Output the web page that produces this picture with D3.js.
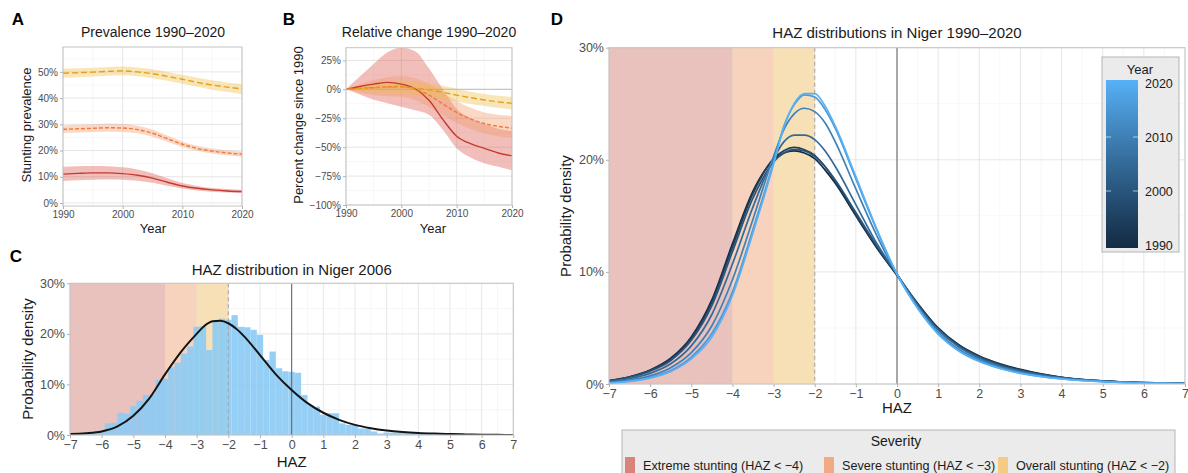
<!DOCTYPE html>
<html>
<head>
<meta charset="utf-8">
<script src="https://cdn.jsdelivr.net/npm/d3@7"></script>
<style>
  body { margin: 0; background: #fff; }
  svg { display: block; }
</style>
</head>
<body>
<svg id="fig" width="1188" height="473"></svg>
<script>
// ---------- data ----------
// Years sampled for panels A and B
const years = [1990, 1992.5, 1995, 1997.5, 2000, 2002.5, 2005, 2007.5, 2010, 2012.5, 2015, 2017.5, 2020];

// Panel A: stunting prevalence (%), central estimate and uncertainty band
const prevOverall   = [49.5, 49.7, 49.9, 50.2, 50.4, 50.0, 49.3, 48.3, 47.2, 46.0, 45.0, 44.2, 43.5];
const prevOverallLo = [47.8, 48.0, 48.2, 48.5, 48.7, 48.3, 47.6, 46.6, 45.5, 44.3, 43.2, 42.3, 41.5];
const prevOverallHi = [51.2, 51.4, 51.6, 51.9, 52.1, 51.7, 51.0, 50.0, 48.9, 47.8, 46.8, 46.0, 45.4];
const prevSevere    = [28.1, 28.3, 28.5, 28.7, 28.6, 28.0, 26.6, 24.5, 22.4, 20.8, 19.8, 19.1, 18.6];
const prevSevereLo  = [26.7, 26.9, 27.1, 27.2, 27.1, 26.6, 25.3, 23.4, 21.4, 19.9, 18.9, 18.2, 17.6];
const prevSevereHi  = [29.6, 29.8, 30.0, 30.2, 30.1, 29.5, 28.0, 25.7, 23.5, 21.8, 20.8, 20.1, 19.6];
const prevExtreme   = [11.0, 11.3, 11.5, 11.5, 11.2, 10.6, 9.5, 7.9, 6.5, 5.6, 5.0, 4.6, 4.4];
const prevExtremeLo = [8.4, 8.7, 8.9, 9.0, 8.9, 8.5, 7.7, 6.6, 5.5, 4.8, 4.3, 4.0, 3.8];
const prevExtremeHi = [13.8, 14.0, 14.1, 14.0, 13.6, 12.8, 11.3, 9.4, 7.6, 6.5, 5.7, 5.3, 5.0];

// Panel B: percent change since 1990
const chgOverall   = [0, 0.8, 1.5, 1.8, 2.0, 1.0, -0.5, -2.5, -5.0, -7.2, -9.2, -10.8, -12.0];
const chgOverallLo = [0, -1.5, -2.5, -3.0, -3.5, -4.5, -6.5, -8.5, -10.5, -12.5, -14.5, -16.0, -17.5];
const chgOverallHi = [0, 3.0, 5.0, 6.0, 7.0, 6.0, 5.0, 3.0, 0.5, -2.0, -4.0, -5.5, -6.5];
const chgSevere    = [0, 0.8, 1.5, 2.2, 2.5, 0, -5.0, -12.5, -20.0, -25.5, -29.5, -32.0, -33.5];
const chgSevereLo  = [0, -3, -5, -6, -6.5, -9.5, -15, -22, -29, -34, -38, -40.5, -42];
const chgSevereHi  = [0, 4.5, 8, 10.5, 11.5, 9.5, 4.5, -3, -10, -16, -20, -22, -23];
const chgExtreme   = [0, 2.5, 4.5, 6.0, 4.5, 0.5, -9.5, -26, -40.5, -47, -51, -55, -57.5];
const chgExtremeLo = [0, -4.5, -9, -12, -15, -18, -22, -35, -51, -59, -64, -67, -70];
const chgExtremeHi = [0, 11, 22, 32, 36, 33, 18, 0, -17, -25, -30, -34, -36];

// Panel C: histogram of HAZ in 2006 (bin centres, bin width 0.2) and density (%)
const histCenters = [-6.8, -6.6, -6.4, -6.2, -6.0, -5.8, -5.6, -5.4, -5.2, -5.0, -4.8, -4.6, -4.4, -4.2, -4.0,
  -3.8, -3.6, -3.4, -3.2, -3.0, -2.8, -2.6, -2.4, -2.2, -2.0, -1.8, -1.6, -1.4, -1.2, -1.0, -0.8, -0.6, -0.4, -0.2,
  0.0, 0.2, 0.4, 0.6, 0.8, 1.0, 1.2, 1.4, 1.6, 1.8, 2.0, 2.2, 2.4, 2.6, 2.8, 3.0, 3.2, 3.4, 3.6, 3.8, 4.0,
  4.2, 4.4, 4.6, 4.8, 5.0, 5.2, 5.4, 5.6, 5.8, 6.0];
const histDensity = [0.2, 0.3, 0.3, 0.5, 0.9, 2.3, 2.4, 4.4, 4.2, 5.7, 6.8, 7.9, 8.0, 10.9, 11.1,
  13.4, 14.3, 16.1, 17.5, 21.4, 21.5, 16.8, 22.4, 23.0, 22.8, 23.7, 21.4, 21.3, 20.8, 19.8, 14.8, 16.5, 13.2, 12.6,
  12.5, 12.3, 7.9, 5.9, 5.6, 4.0, 4.3, 4.3, 2.3, 2.0, 2.0, 1.3, 1.3, 0.7, 0.3, 0.5, 0.5, 0.5, 0.4, 0.4, 0.3,
  0.3, 0.3, 0.2, 0.2, 0.2, 0.2, 0.15, 0.15, 0.1, 0.1];

// HAZ grid for the smooth density curves (panels C and D)
const hazGrid = [-7, -6.5, -6, -5.5, -5, -4.5, -4, -3.5, -3, -2.75, -2.5, -2.25, -2, -1.75, -1.5, -1,
  -0.5, 0, 0.5, 1, 1.5, 2, 2.5, 3, 3.5, 4, 4.5, 5, 5.5, 6, 6.5, 7];
const density2006 = [0.2, 0.35, 0.7, 1.7, 3.8, 7.2, 12.0, 16.4, 20.0, 21.6, 22.5, 22.6, 22.1, 21.0, 19.5, 15.8,
  12.0, 8.9, 6.3, 4.4, 3.0, 2.0, 1.35, 0.9, 0.6, 0.4, 0.28, 0.2, 0.12, 0.06, 0.03, 0.02];

// Panel D: HAZ densities by year (%)
const curveYears = [1990, 1995, 2000, 2005, 2010, 2015, 2020];
const dens1990 = [0.30, 0.65, 1.25, 2.3, 4.2, 7.5, 12.5, 17.2, 20.0, 20.6, 20.8, 20.6, 20.1, 19.1, 17.9, 15.0,
  12.2, 9.7, 7.2, 5.0, 3.5, 2.5, 1.8, 1.3, 0.9, 0.6, 0.4, 0.28, 0.18, 0.12, 0.08, 0.05];
const dens1995 = [0.28, 0.62, 1.2, 2.2, 4.05, 7.3, 12.2, 17.0, 20.1, 20.8, 21.1, 20.9, 20.4, 19.4, 18.1, 15.1,
  12.2, 9.7, 7.1, 4.95, 3.45, 2.45, 1.75, 1.25, 0.88, 0.6, 0.4, 0.27, 0.18, 0.12, 0.08, 0.05];
const dens2000 = [0.27, 0.6, 1.15, 2.1, 3.9, 7.0, 11.8, 16.6, 19.8, 20.6, 20.9, 20.8, 20.3, 19.4, 18.2, 15.3,
  12.4, 9.8, 7.1, 4.9, 3.4, 2.4, 1.7, 1.2, 0.85, 0.58, 0.39, 0.26, 0.17, 0.11, 0.07, 0.05];
const dens2005 = [0.2, 0.48, 0.95, 1.8, 3.4, 6.2, 10.7, 15.8, 20.1, 21.6, 22.2, 22.2, 21.8, 20.8, 19.4, 16.0,
  12.6, 9.8, 7.0, 4.8, 3.3, 2.3, 1.6, 1.15, 0.8, 0.55, 0.37, 0.25, 0.16, 0.1, 0.07, 0.04];
const dens2010 = [0.14, 0.35, 0.72, 1.45, 2.8, 5.2, 9.3, 14.7, 20.3, 22.7, 24.1, 24.6, 24.3, 23.3, 21.6, 17.4,
  13.3, 9.8, 6.9, 4.6, 3.1, 2.15, 1.5, 1.05, 0.73, 0.5, 0.34, 0.23, 0.15, 0.1, 0.06, 0.04];
const dens2015 = [0.1, 0.27, 0.58, 1.2, 2.4, 4.5, 8.2, 13.8, 19.8, 23.0, 24.9, 25.8, 25.6, 24.5, 22.8, 18.3,
  13.8, 9.8, 6.8, 4.5, 3.0, 2.05, 1.42, 0.98, 0.68, 0.47, 0.32, 0.22, 0.14, 0.09, 0.06, 0.03];
const dens2020 = [0.09, 0.24, 0.53, 1.12, 2.25, 4.2, 7.9, 13.5, 19.6, 22.9, 25.0, 25.9, 25.9, 24.8, 23.0, 18.5,
  13.9, 9.8, 6.75, 4.45, 2.95, 2.0, 1.38, 0.95, 0.66, 0.45, 0.3, 0.2, 0.13, 0.08, 0.05, 0.03];
const densByYear = [dens1990, dens1995, dens2000, dens2005, dens2010, dens2015, dens2020];

// Severity thresholds and labels
const severityNames = ["Extreme stunting (HAZ < \u22124)", "Severe stunting (HAZ < \u22123)", "Overall stunting (HAZ < \u22122)"];
const severityBands = [[-7, -4], [-4, -3], [-3, -2]];

// Tick values
const yearTicks = [1990, 2000, 2010, 2020];
const prevTicks = [0, 10, 20, 30, 40, 50];
const chgTicks = [-100, -75, -50, -25, 0, 25];
const hazTicks = [-7, -6, -5, -4, -3, -2, -1, 0, 1, 2, 3, 4, 5, 6, 7];
const densTicks = [0, 10, 20, 30];
const legendYearTicks = [1990, 2000, 2010, 2020];

// ---------- styling ----------
const FONT = "'Liberation Sans', Arial, Helvetica, sans-serif";
const GRID_MAJOR = "#e3e3e3", GRID_MINOR = "#f1f1f1", BORDER = "#c4c4c4";
const TICK_TXT = "#4d4d4d";
const sevLine = ["#c8392f", "#ee7a3c", "#e2a11c"];
const sevBand = ["#d9534a", "#f29866", "#efbd45"];
const sevShade = ["#e7bcb8", "#f6cfb7", "#f6deb0"];
const sevKey = ["#d9837b", "#f2aa86", "#f4cb84"];

const svg = d3.select("#fig");
const defs = svg.append("defs");
let clipId = 0;

function pctFmt(d) { return (d < 0 ? "\u2212" + (-d) : d) + "%"; }
function numFmt(d) { return d < 0 ? "\u2212" + (-d) : String(d); }

function frame(x, y, xMajor, xMinor, yMajor, yMinor) {
  const [l, r] = x.range(), [b, t] = y.range();
  const g = svg.append("g");
  g.append("rect").attr("x", l).attr("y", t).attr("width", r - l).attr("height", b - t).attr("fill", "#fff");
  const id = "clip" + (clipId++);
  defs.append("clipPath").attr("id", id).append("rect")
    .attr("x", l).attr("y", t).attr("width", r - l).attr("height", b - t);
  const grid = g.append("g");
  grid.selectAll(null).data(xMinor).join("line")
    .attr("x1", d => x(d)).attr("x2", d => x(d)).attr("y1", t).attr("y2", b)
    .attr("stroke", GRID_MINOR).attr("stroke-width", 0.6);
  grid.selectAll(null).data(yMinor).join("line")
    .attr("y1", d => y(d)).attr("y2", d => y(d)).attr("x1", l).attr("x2", r)
    .attr("stroke", GRID_MINOR).attr("stroke-width", 0.6);
  grid.selectAll(null).data(xMajor).join("line")
    .attr("x1", d => x(d)).attr("x2", d => x(d)).attr("y1", t).attr("y2", b)
    .attr("stroke", GRID_MAJOR).attr("stroke-width", 0.9);
  grid.selectAll(null).data(yMajor).join("line")
    .attr("y1", d => y(d)).attr("y2", d => y(d)).attr("x1", l).attr("x2", r)
    .attr("stroke", GRID_MAJOR).attr("stroke-width", 0.9);
  const body = g.append("g").attr("clip-path", `url(#${id})`);
  return body;
}

function border(x, y) {
  const [l, r] = x.range(), [b, t] = y.range();
  svg.append("rect").attr("x", l).attr("y", t).attr("width", r - l).attr("height", b - t)
    .attr("fill", "none").attr("stroke", BORDER).attr("stroke-width", 1);
}

function styleAxis(sel, size) {
  sel.attr("font-family", FONT).attr("font-size", size);
  sel.select(".domain").remove();
  sel.selectAll(".tick line").attr("stroke", "#b3b3b3");
  sel.selectAll(".tick text").attr("fill", TICK_TXT);
}

function axes(x, y, xt, xf, yt, yf, size, pad) {
  const [b] = y.range(), [l] = x.range();
  svg.append("g").attr("transform", `translate(0,${b})`)
    .call(d3.axisBottom(x).tickValues(xt).tickFormat(xf).tickSize(3).tickPadding(pad.x))
    .call(s => styleAxis(s, size));
  svg.append("g").attr("transform", `translate(${l},0)`)
    .call(d3.axisLeft(y).tickValues(yt).tickFormat(yf).tickSize(3).tickPadding(pad.y))
    .call(s => styleAxis(s, size));
}

function text(x, y, str, size, opts = {}) {
  const t = svg.append("text").attr("x", x).attr("y", y).text(str)
    .attr("font-family", FONT).attr("font-size", size)
    .attr("fill", opts.fill || "#1a1a1a")
    .attr("text-anchor", opts.anchor || "middle");
  if (opts.bold) t.attr("font-weight", "bold");
  if (opts.rotate) t.attr("transform", `rotate(-90,${x},${y})`);
  return t;
}

// ---------- Panel A: prevalence ----------
{
  const x = d3.scaleLinear().domain([1990, 2020]).range([63, 242]);
  const y = d3.scaleLinear().domain([-1.15, 59.5]).range([206, 47]);
  const body = frame(x, y, yearTicks, [1995, 2005, 2015], prevTicks, [5, 15, 25, 35, 45, 55]);
  const series = [
    [prevExtreme, prevExtremeLo, prevExtremeHi],
    [prevSevere, prevSevereLo, prevSevereHi],
    [prevOverall, prevOverallLo, prevOverallHi]
  ];
  const dashes = [null, "4,2", "6,3"];
  series.forEach(([mid, lo, hi], i) => {
    const area = d3.area().x((d, j) => x(years[j])).y0((d, j) => y(lo[j])).y1((d, j) => y(hi[j]))
      .curve(d3.curveMonotoneX);
    body.append("path").attr("d", area(mid)).attr("fill", sevBand[i]).attr("fill-opacity", 0.38);
    const line = d3.line().x((d, j) => x(years[j])).y(d => y(d)).curve(d3.curveMonotoneX);
    body.append("path").attr("d", line(mid)).attr("fill", "none").attr("stroke", sevLine[i])
      .attr("stroke-width", 1.4).attr("stroke-dasharray", dashes[i]);
  });
  border(x, y);
  axes(x, y, yearTicks, d3.format("d"), prevTicks, pctFmt, 10, { x: 2, y: 2 });
  text(153, 37, "Prevalence 1990\u20132020", 14);
  text(18, 25, "A", 17, { bold: true, fill: "#000" });
  text(31, 125, "Stunting prevalence", 13, { rotate: true });
  text(153, 233, "Year", 13);
}

// ---------- Panel B: relative change ----------
{
  const x = d3.scaleLinear().domain([1990, 2020]).range([346, 512]);
  const y = d3.scaleLinear().domain([-100, 36]).range([205, 47.7]);
  const body = frame(x, y, yearTicks, [1995, 2005, 2015], chgTicks, [-87.5, -62.5, -37.5, -12.5, 12.5]);
  body.append("line").attr("x1", x(1990)).attr("x2", x(2020)).attr("y1", y(0)).attr("y2", y(0))
    .attr("stroke", "#bdbdbd").attr("stroke-width", 1);
  const series = [
    [chgExtreme, chgExtremeLo, chgExtremeHi],
    [chgSevere, chgSevereLo, chgSevereHi],
    [chgOverall, chgOverallLo, chgOverallHi]
  ];
  const dashes = [null, "4,2", "6,3"];
  series.forEach(([mid, lo, hi], i) => {
    const area = d3.area().x((d, j) => x(years[j])).y0((d, j) => y(lo[j])).y1((d, j) => y(hi[j]))
      .curve(d3.curveMonotoneX);
    body.append("path").attr("d", area(mid)).attr("fill", sevBand[i]).attr("fill-opacity", 0.38);
  });
  series.forEach(([mid], i) => {
    const line = d3.line().x((d, j) => x(years[j])).y(d => y(d)).curve(d3.curveMonotoneX);
    body.append("path").attr("d", line(mid)).attr("fill", "none").attr("stroke", sevLine[i])
      .attr("stroke-width", 1.4).attr("stroke-dasharray", dashes[i]);
  });
  border(x, y);
  axes(x, y, yearTicks, d3.format("d"), chgTicks, pctFmt, 10, { x: 2, y: 2 });
  text(429, 37, "Relative change 1990\u20132020", 14);
  text(289, 25, "B", 17, { bold: true, fill: "#000" });
  text(303, 125, "Percent change since 1990", 13, { rotate: true });
  text(433, 233, "Year", 13);
}

// Severity shading shared by C and D
function shade(body, x, y) {
  const [b, t] = y.range();
  severityBands.forEach(([a, c], i) => {
    body.append("rect").attr("x", x(a)).attr("width", x(c) - x(a)).attr("y", t).attr("height", b - t)
      .attr("fill", sevShade[i]).attr("fill-opacity", 0.93);
  });
}
function refLines(body, x, y) {
  const [b, t] = y.range();
  body.append("line").attr("x1", x(-2)).attr("x2", x(-2)).attr("y1", t).attr("y2", b)
    .attr("stroke", "#a8a8a8").attr("stroke-width", 1.1).attr("stroke-dasharray", "4,3");
  body.append("line").attr("x1", x(0)).attr("x2", x(0)).attr("y1", t).attr("y2", b)
    .attr("stroke", "#6a6a6a").attr("stroke-width", 1.1);
}
const hazMinor = [-6.5, -5.5, -4.5, -3.5, -2.5, -1.5, -0.5, 0.5, 1.5, 2.5, 3.5, 4.5, 5.5, 6.5];

// ---------- Panel C: HAZ distribution 2006 ----------
{
  const x = d3.scaleLinear().domain([-7, 7]).range([70, 513.3]);
  const y = d3.scaleLinear().domain([0, 30]).range([435, 283.3]);
  const body = frame(x, y, hazTicks, hazMinor, densTicks, [5, 15, 25]);
  shade(body, x, y);
  body.selectAll(null).data(histCenters).join("rect")
    .attr("x", d => x(d - 0.1)).attr("width", d => x(d + 0.1) - x(d - 0.1))
    .attr("y", (d, i) => y(histDensity[i])).attr("height", (d, i) => y(0) - y(histDensity[i]))
    .attr("fill", "#8ccbf4").attr("fill-opacity", 0.92);
  refLines(body, x, y);
  const line = d3.line().x((d, j) => x(hazGrid[j])).y(d => y(d)).curve(d3.curveMonotoneX);
  body.append("path").attr("d", line(density2006)).attr("fill", "none")
    .attr("stroke", "#141414").attr("stroke-width", 2);
  border(x, y);
  axes(x, y, hazTicks, numFmt, densTicks, pctFmt, 12.5, { x: 2, y: 2 });
  text(291.7, 275, "HAZ distribution in Niger 2006", 15);
  text(16, 262, "C", 17, { bold: true, fill: "#000" });
  text(33, 359, "Probability density", 15, { rotate: true });
  text(291.7, 467, "HAZ", 15);
}

// ---------- Panel D: HAZ distributions by year ----------
{
  const x = d3.scaleLinear().domain([-7, 7]).range([609, 1185]);
  const y = d3.scaleLinear().domain([0, 30]).range([384, 47.7]);
  const body = frame(x, y, hazTicks, hazMinor, densTicks, [5, 15, 25]);
  shade(body, x, y);
  refLines(body, x, y);
  const color = d3.scaleLinear().domain([1990, 2020]).range(["#132B43", "#56B1F7"])
    .interpolate(d3.interpolateLab);
  const line = d3.line().x((d, j) => x(hazGrid[j])).y(d => y(d)).curve(d3.curveMonotoneX);
  curveYears.forEach((yr, i) => {
    body.append("path").attr("d", line(densByYear[i])).attr("fill", "none")
      .attr("stroke", color(yr)).attr("stroke-width", 1.7);
  });
  border(x, y);
  axes(x, y, hazTicks, numFmt, densTicks, pctFmt, 12.5, { x: 2, y: 2 });
  text(897, 38, "HAZ distributions in Niger 1990\u20132020", 15);
  text(557, 25, "D", 17, { bold: true, fill: "#000" });
  text(571, 216, "Probability density", 15, { rotate: true });
  text(897, 413, "HAZ", 15);

  // colour bar legend
  const lg = svg.append("g");
  lg.append("rect").attr("x", 1102).attr("y", 57).attr("width", 77).attr("height", 195)
    .attr("fill", "#ebebeb").attr("stroke", "#b5b5b5").attr("stroke-width", 1);
  text(1140, 74, "Year", 13);
  const grad = defs.append("linearGradient").attr("id", "yearGrad")
    .attr("x1", 0).attr("y1", 1).attr("x2", 0).attr("y2", 0);
  d3.range(0, 1.0001, 0.1).forEach(t => {
    grad.append("stop").attr("offset", t).attr("stop-color", color(1990 + 30 * t));
  });
  const ly = d3.scaleLinear().domain([1990, 2020]).range([245, 83]);
  lg.append("rect").attr("x", 1106).attr("y", 80).attr("width", 32).attr("height", 168)
    .attr("fill", "url(#yearGrad)");
  lg.selectAll(null).data(legendYearTicks.slice(1, 3)).join("g").each(function (d) {
    const s = d3.select(this);
    s.append("line").attr("x1", 1106).attr("x2", 1111).attr("y1", ly(d)).attr("y2", ly(d))
      .attr("stroke", "#ffffff").attr("stroke-opacity", 0.6);
    s.append("line").attr("x1", 1133).attr("x2", 1138).attr("y1", ly(d)).attr("y2", ly(d))
      .attr("stroke", "#ffffff").attr("stroke-opacity", 0.6);
  });
  lg.selectAll(null).data(legendYearTicks).join("text")
    .attr("x", 1145).attr("y", d => ly(d) + 4.5).text(d => d)
    .attr("font-family", FONT).attr("font-size", 12.5).attr("fill", "#1a1a1a");
}

// ---------- Severity legend ----------
{
  const g = svg.append("g");
  g.append("rect").attr("x", 622).attr("y", 430).attr("width", 553).attr("height", 60)
    .attr("fill", "#ebebeb").attr("stroke", "#b5b5b5").attr("stroke-width", 1);
  text(896, 446, "Severity", 14);
  const keyX = [625, 824, 998];
  severityNames.forEach((name, i) => {
    g.append("rect").attr("x", keyX[i]).attr("y", 457).attr("width", 10).attr("height", 18)
      .attr("fill", sevKey[i]);
    text(keyX[i] + 18, 470, name, 12.6, { anchor: "start" });
  });
}
</script>
</body>
</html>
